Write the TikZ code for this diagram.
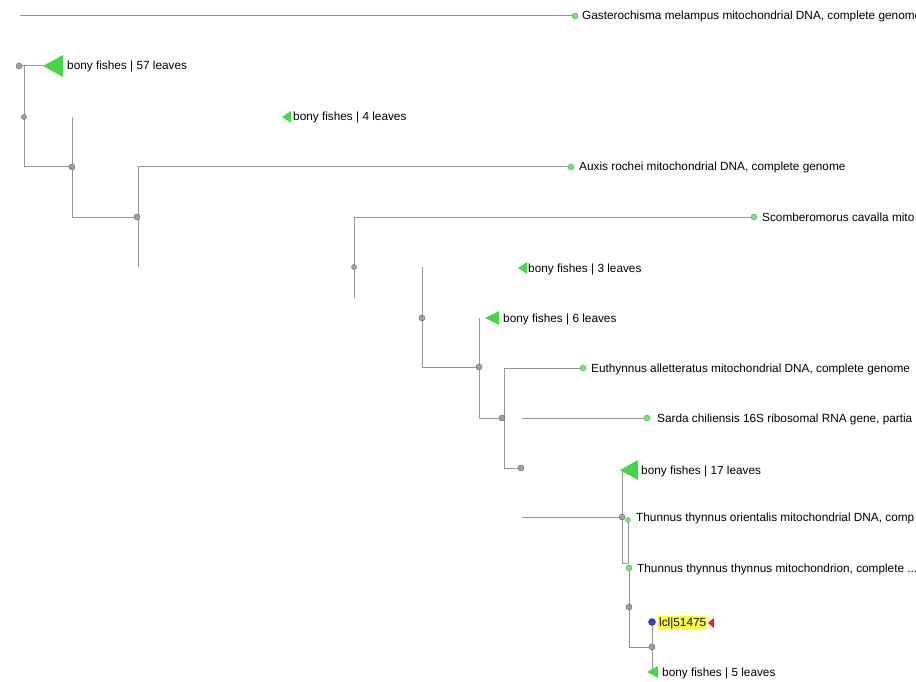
\documentclass[tikz,border=0pt]{standalone}
\usepackage{fontspec}
\setmainfont{Liberation Sans}
\usetikzlibrary{backgrounds}
\definecolor{edge}{RGB}{150,150,150}
\definecolor{leafg}{RGB}{120,225,120}
\definecolor{leafgd}{RGB}{70,180,70}
\definecolor{trig}{RGB}{70,215,70}
\definecolor{inode}{RGB}{160,160,160}
\definecolor{hl}{RGB}{255,255,60}
\definecolor{qblue}{RGB}{60,60,220}
\definecolor{qred}{RGB}{230,30,50}
\begin{document}
\begin{tikzpicture}[x=1pt,y=-1pt,
  branch/.style={draw=edge, line width=1pt},
  inner/.style={circle, fill=inode, draw=inode!60!black, line width=0.4pt, inner sep=0pt, minimum size=6pt},
  leafdot/.style={circle, fill=leafg, draw=leafgd, line width=0.4pt, inner sep=0pt, minimum size=6pt},
  lbl/.style={anchor=base west, inner sep=0pt, text=black, font=\fontsize{11.8}{14}\selectfont},
  tri/.style={fill=trig}
]
\useasboundingbox (0,0) rectangle (916,682);

% ---------- internal nodes ----------
\node[inner] (n1) at (19,66) {};
\node[inner, minimum size=5pt] (n2) at (24,117) {};
\node[inner] (n3) at (72,167) {};
\node[inner] (n4) at (137,217) {};
\node[inner, minimum size=5pt] (n5) at (354,267) {};
\node[inner] (n6) at (422,318) {};
\node[inner] (n7) at (479,367) {};
\node[inner] (n8) at (502,418) {};
\node[inner] (n9) at (521,468) {};
\node[inner] (n10) at (622,517) {};
\node[inner] (n11) at (629,607) {};
\node[inner] (n12) at (652,647) {};

% ---------- leaves ----------
\node[leafdot] (lf1) at (575,16) {};
\node[leafdot] (lf2) at (571,167) {};
\node[leafdot] (lf3) at (754,217) {};
\node[leafdot] (lf4) at (583,368) {};
\node[leafdot] (lf5) at (647,418) {};
\node[leafdot, minimum size=5pt] (lf6) at (628,520) {};
\node[leafdot] (lf7) at (629,568) {};
\node[circle, fill=qblue, draw=qblue!70!black, inner sep=0pt, minimum size=7pt] (bq) at (652,622) {};

% ---------- collapsed subtrees (apex coordinates) ----------
\coordinate (t57) at (43,66);
\coordinate (t4) at (282,117);
\coordinate (t3) at (518,268);
\coordinate (t6) at (485,318);
\coordinate (t17) at (620,470);
\coordinate (t5) at (647,672);
\fill[tri] (t57) -- ++(20,-11) -- ++(0,22) -- cycle;
\fill[tri] (t4) -- ++(9,-6) -- ++(0,12) -- cycle;
\fill[tri] (t3) -- ++(9,-6) -- ++(0,12) -- cycle;
\fill[tri] (t6) -- ++(14,-7) -- ++(0,14) -- cycle;
\fill[tri] (t17) -- ++(18,-10) -- ++(0,20) -- cycle;
\fill[tri] (t5) -- ++(11,-6) -- ++(0,12) -- cycle;

% ---------- bend coordinates ----------
\coordinate (r0) at (20,16);
\coordinate (a1) at (24,66);  \coordinate (a2) at (24,167);
\coordinate (b1) at (72,117); \coordinate (b2) at (72,217);
\coordinate (c1) at (138,167); \coordinate (c2) at (138,267);
\coordinate (d1) at (354,217); \coordinate (d2) at (354,298);
\coordinate (e1) at (422,267); \coordinate (e2) at (422,367);
\coordinate (f1) at (479,318); \coordinate (f2) at (479,418);
\coordinate (g1) at (504,368); \coordinate (g2) at (504,468);
\coordinate (h1) at (522,418);
\coordinate (k1) at (522,517);
\coordinate (m1) at (622,470); \coordinate (m2) at (622,563);
\coordinate (m3) at (628,563); \coordinate (m4) at (628,522);
\coordinate (p2) at (629,647);
\coordinate (q2) at (652,672);

% ---------- branches ----------
\begin{scope}[on background layer]
\fill[white] (0,0) rectangle (916,682);
\draw[branch] (r0) -- (lf1);
\draw[branch] (n1) -- (t57);
\draw[branch] (a1) -- (a2) -- (n3);
\draw[branch] (b1) -- (b2) -- (n4);
\draw[branch] (c2) -- (c1) -- (lf2);
\draw[branch] (d2) -- (d1) -- (lf3);
\draw[branch] (e1) -- (e2) -- (n7);
\draw[branch] (f1) -- (f2) -- (n8);
\draw[branch] (lf4) -- (g1) -- (g2) -- (n9);
\draw[branch] (h1) -- (lf5);
\draw[branch] (k1) -- (n10);
\draw[branch] (m1) -- (m2) -- (m3) -- (m4);
\draw[branch] (lf7) -- (p2) -- (n12);
\draw[branch] (bq) -- (q2);
\end{scope}

% ---------- labels ----------
\node[lbl] (lb1) at (582,20) {Gasterochisma melampus mitochondrial DNA, complete genome};
\node[lbl] (lb2) at (67,70) {bony fishes | 57 leaves};
\node[lbl] (lb3) at (293,121) {bony fishes | 4 leaves};
\node[lbl] (lb4) at (579,171) {Auxis rochei mitochondrial DNA, complete genome};
\node[lbl] (lb5) at (762,221) {Scomberomorus cavalla mito};
\node[lbl] (lb6) at (528,272) {bony fishes | 3 leaves};
\node[lbl] (lb7) at (503,322) {bony fishes | 6 leaves};
\node[lbl] (lb8) at (591,372) {Euthynnus alletteratus mitochondrial DNA, complete genome};
\node[lbl] (lb9) at (657,422) {Sarda chiliensis 16S ribosomal RNA gene, partia};
\node[lbl] (lb10) at (641,474) {bony fishes | 17 leaves};
\node[lbl] (lb11) at (636,521) {Thunnus thynnus orientalis mitochondrial DNA, comp};
\node[lbl] (lb12) at (637,572) {Thunnus thynnus thynnus mitochondrion, complete ...};
\node[lbl, fill=hl, inner xsep=1pt, inner ysep=1.5pt] (lb13) at (658,626) {lcl|51475};
\fill[qred] ([xshift=0.5pt]lb13.east) -- ++(6,-5) -- ++(0,10) -- cycle;
\node[lbl] (lb14) at (662,676) {bony fishes | 5 leaves};
\end{tikzpicture}
\end{document}
